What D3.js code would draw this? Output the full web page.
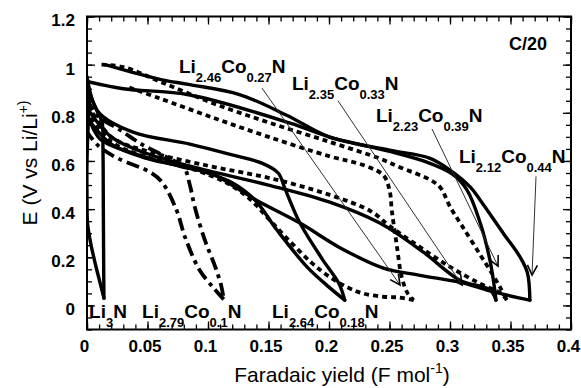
<!DOCTYPE html>
<html>
<head>
<meta charset="utf-8">
<script src="https://cdn.jsdelivr.net/npm/d3@7"></script>
<style>
  body { margin: 0; background: #fff; }
  svg { display: block; }
  text { font-family: "Liberation Sans", Arial, Helvetica, sans-serif; fill: #000; }
</style>
</head>
<body>
<svg id="chart" width="581" height="388"></svg>
<script>
// Galvanostatic cycles at C/20, E (V vs Li/Li+) against Faradaic yield (F/mol).
// Each composition: upper branch (yield rising) and lower branch (returning), [yield, E].

const li3nUpper = [[0,0.95],[0.004,0.86],[0.009,0.8],[0.0125,0.76],[0.0132,0.65],[0.0135,0.4],[0.0138,0.15],[0.014,0.03]];
const li3nLower = [[0.014,0.03],[0.011,0.09],[0.007,0.17],[0.003,0.26],[0.0005,0.34],[0,0.45],[0,0.6],[0.001,0.75],[0.002,0.88]];

const co010Upper = [[0,0.86],[0.008,0.79],[0.027,0.73],[0.045,0.67],[0.068,0.61],[0.08,0.575],[0.085,0.5],[0.089,0.41],[0.0975,0.27],[0.106,0.16],[0.111,0.08],[0.113,0.025]];
const co010Lower = [[0.113,0.025],[0.104,0.076],[0.093,0.147],[0.081,0.284],[0.074,0.396],[0.062,0.512],[0.052,0.554],[0.025,0.612],[0.01,0.66],[0,0.72]];

const co018Upper = [[0,0.92],[0.01,0.8],[0.038,0.72],[0.085,0.67],[0.12,0.625],[0.145,0.59],[0.158,0.55],[0.164,0.48],[0.176,0.342],[0.195,0.188],[0.208,0.093],[0.213,0.022]];
const co018Lower = [[0.213,0.022],[0.2,0.076],[0.182,0.159],[0.157,0.313],[0.139,0.437],[0.12,0.51],[0.09,0.565],[0.05,0.61],[0.02,0.67],[0,0.78]];

const co027Upper = [[0.035,0.905],[0.06,0.86],[0.104,0.78],[0.15,0.7],[0.2,0.62],[0.23,0.58],[0.245,0.54],[0.25,0.48],[0.252,0.39],[0.256,0.25],[0.26,0.12],[0.265,0.05],[0.27,0.022]];
const co027Lower = [[0.27,0.022],[0.258,0.033],[0.245,0.036],[0.228,0.05],[0.215,0.076],[0.2,0.12],[0.185,0.18],[0.165,0.28],[0.15,0.36],[0.135,0.44],[0.115,0.51],[0.085,0.57],[0.05,0.615],[0.02,0.68],[0,0.8]];

const co033Upper = [[0,0.93],[0.03,0.9],[0.085,0.874],[0.168,0.757],[0.2,0.7],[0.25,0.64],[0.278,0.6],[0.302,0.545],[0.314,0.48],[0.325,0.342],[0.333,0.188],[0.337,0.064],[0.338,0.022]];
const co033Lower = [[0.338,0.022],[0.333,0.064],[0.308,0.105],[0.278,0.221],[0.242,0.342],[0.2,0.43],[0.15,0.5],[0.1,0.56],[0.05,0.63],[0.02,0.7],[0,0.82]];

const co039Upper = [[0.012,1.0],[0.03,0.99],[0.063,0.924],[0.104,0.84],[0.15,0.76],[0.2,0.68],[0.242,0.61],[0.259,0.573],[0.283,0.523],[0.292,0.49],[0.3,0.41],[0.31,0.33],[0.325,0.21],[0.335,0.13],[0.342,0.07],[0.347,0.022]];
const co039Lower = [[0.347,0.022],[0.342,0.05],[0.325,0.09],[0.3,0.16],[0.27,0.26],[0.25,0.33],[0.235,0.39],[0.2,0.46],[0.15,0.53],[0.1,0.58],[0.05,0.64],[0.02,0.7],[0,0.84]];

const co044Upper = [[0.015,1.0],[0.04,0.965],[0.062,0.937],[0.085,0.917],[0.126,0.876],[0.165,0.79],[0.2,0.7],[0.25,0.645],[0.283,0.612],[0.3,0.562],[0.317,0.49],[0.325,0.437],[0.344,0.3],[0.358,0.2],[0.364,0.135],[0.366,0.022]];
const co044Lower = [[0.366,0.022],[0.336,0.056],[0.311,0.093],[0.275,0.125],[0.245,0.155],[0.209,0.24],[0.176,0.342],[0.14,0.437],[0.126,0.48],[0.102,0.55],[0.079,0.575],[0.04,0.63],[0.011,0.69],[0,0.8]];

// Axis ticks
const xTicks = [0, 0.05, 0.1, 0.15, 0.2, 0.25, 0.3, 0.35, 0.4];
const xTickLabels = ["0", "0.05", "0.1", "0.15", "0.2", "0.25", "0.3", "0.35", "0.4"];
const yTicks = [0, 0.2, 0.4, 0.6, 0.8, 1, 1.2];
const yTickLabels = ["0", "0.2", "0.4", "0.6", "0.8", "1", "1.2"];

// Composition labels: formula parts (alternating main / subscript) and anchor in data units
const compLabels = [
  { parts: ["Li", "2.46", "Co", "0.27", "N"], at: [0.0760, 0.965] },
  { parts: ["Li", "2.35", "Co", "0.33", "N"], at: [0.1694, 0.895] },
  { parts: ["Li", "2.23", "Co", "0.39", "N"], at: [0.2388, 0.762] },
  { parts: ["Li", "2.12", "Co", "0.44", "N"], at: [0.3074, 0.591] },
  { parts: ["Li", "3", "N"], at: [0.0017, -0.052] },
  { parts: ["Li", "2.79", "Co", "0.1", "N"], at: [0.0455, -0.052] },
  { parts: ["Li", "2.64", "Co", "0.18", "N"], at: [0.1529, -0.052] }
];
// Leader arrows from labels to their curves: [start, tip]
const leaders = [
  [[0.1446, 0.903], [0.2587, 0.085]],
  [[0.2074, 0.850], [0.3099, 0.085]],
  [[0.2851, 0.733], [0.3397, 0.163]],
  [[0.3711, 0.536], [0.3678, 0.126]]
];

const series = [
  { upper: li3nUpper,  lower: li3nLower,  style: "solid" },
  { upper: co010Upper, lower: co010Lower, style: "dashdot" },
  { upper: co018Upper, lower: co018Lower, style: "solid" },
  { upper: co027Upper, lower: co027Lower, style: "dash" },
  { upper: co033Upper, lower: co033Lower, style: "solid" },
  { upper: co039Upper, lower: co039Lower, style: "dash" },
  { upper: co044Upper, lower: co044Lower, style: "solid" }
];

const svg = d3.select("#chart");
const frame = { left: 87, right: 571, top: 16.5, bottom: 329.5 };
const x = d3.scaleLinear().domain([0, 0.4]).range([frame.left, frame.right]);
const y = d3.scaleLinear().domain([-0.1, 1.2]).range([frame.bottom, frame.top]);

const defs = svg.append("defs");
defs.append("clipPath").attr("id", "plotArea").append("rect")
  .attr("x", frame.left).attr("y", frame.top)
  .attr("width", frame.right - frame.left).attr("height", frame.bottom - frame.top);
defs.append("marker").attr("id", "barb")
  .attr("viewBox", "-12 -7 14 14").attr("refX", 0).attr("refY", 0)
  .attr("markerWidth", 14).attr("markerHeight", 14)
  .attr("markerUnits", "userSpaceOnUse").attr("orient", "auto")
  .append("path").attr("d", "M-10,-5L0,0L-10,5")
  .attr("fill", "none").attr("stroke", "#000").attr("stroke-width", 1.6);

// Ticks on all four sides, pointing inward
const minorX = d3.range(0, 0.4001, 0.01);
const minorY = d3.range(-0.1, 1.2001, 0.05);
const axes = svg.append("g").attr("class", "axes");
function tickRow(gen, transform, values, size) {
  axes.append("g").attr("transform", transform)
    .call(gen.tickValues(values).tickSizeInner(-size).tickSizeOuter(0).tickFormat(""))
    .call(g => g.select(".domain").remove())
    .call(g => g.selectAll(".tick line").attr("stroke", "#000").attr("stroke-width", 1.3));
}
tickRow(d3.axisBottom(x), `translate(0,${frame.bottom})`, minorX, 5);
tickRow(d3.axisTop(x), `translate(0,${frame.top})`, minorX, 5);
tickRow(d3.axisLeft(y), `translate(${frame.left},0)`, minorY, 5);
tickRow(d3.axisRight(y), `translate(${frame.right},0)`, minorY, 5);
tickRow(d3.axisBottom(x), `translate(0,${frame.bottom})`, xTicks, 8);
tickRow(d3.axisTop(x), `translate(0,${frame.top})`, xTicks, 8);
tickRow(d3.axisLeft(y), `translate(${frame.left},0)`, yTicks, 8);
tickRow(d3.axisRight(y), `translate(${frame.right},0)`, yTicks, 8);

// Tick labels
axes.append("g").attr("transform", `translate(0,${frame.bottom})`)
  .call(d3.axisBottom(x).tickValues(xTicks).tickSize(0).tickPadding(10)
    .tickFormat((d, i) => xTickLabels[i]))
  .call(g => g.select(".domain").remove())
  .call(g => g.selectAll("text").attr("font-size", 17).attr("font-weight", "bold")
    .attr("dx", -3)
    .attr("font-family", "Liberation Sans, Arial, sans-serif").attr("fill", "#000"));
axes.append("g").attr("transform", `translate(${frame.left},0)`)
  .call(d3.axisLeft(y).tickValues(yTicks).tickSize(0).tickPadding(12)
    .tickFormat((d, i) => yTickLabels[i]))
  .call(g => g.select(".domain").remove())
  .call(g => g.selectAll("text").attr("font-size", 17).attr("font-weight", "bold")
    .attr("dy", "0.55em")
    .attr("font-family", "Liberation Sans, Arial, sans-serif").attr("fill", "#000"));

// Curves
const line = d3.line().x(d => x(d[0])).y(d => y(d[1])).curve(d3.curveCatmullRom.alpha(0.5));
const dashes = { solid: null, dash: "5,4", dashdot: "13,5,4,5" };
const plot = svg.append("g").attr("clip-path", "url(#plotArea)");
series.forEach(s => {
  [s.upper, s.lower].forEach(branch => {
    plot.append("path").datum(branch)
      .attr("d", line)
      .attr("fill", "none")
      .attr("stroke", "#000")
      .attr("stroke-width", s.style === "solid" ? 3.4 : 3.8)
      .attr("stroke-linecap", s.style === "solid" ? "round" : "butt")
      .attr("stroke-linejoin", "round")
      .attr("stroke-dasharray", dashes[s.style]);
  });
});

// Leader arrows
svg.append("g").selectAll("line").data(leaders).join("line")
  .attr("x1", d => x(d[0][0])).attr("y1", d => y(d[0][1]))
  .attr("x2", d => x(d[1][0])).attr("y2", d => y(d[1][1]))
  .attr("stroke", "#333").attr("stroke-width", 1)
  .attr("marker-end", "url(#barb)");

// Frame
svg.append("rect")
  .attr("x", frame.left).attr("y", frame.top)
  .attr("width", frame.right - frame.left).attr("height", frame.bottom - frame.top)
  .attr("fill", "none").attr("stroke", "#000").attr("stroke-width", 2);

// Composition labels with subscripts
const labelG = svg.append("g");
compLabels.forEach(l => {
  const t = labelG.append("text")
    .attr("x", x(l.at[0])).attr("y", y(l.at[1]))
    .attr("font-weight", "bold").attr("font-size", 19);
  l.parts.forEach((p, i) => {
    const sub = i % 2 === 1;
    t.append("tspan")
      .attr("font-size", sub ? 13 : 19)
      .attr("dy", i === 0 ? 0 : (sub ? 9 : -9))
      .text(p);
  });
});

// Rate tag
svg.append("text")
  .attr("x", x(0.3802)).attr("y", y(1.061))
  .attr("text-anchor", "end").attr("font-weight", "bold").attr("font-size", 18)
  .text("C/20");

// Axis titles
const xt = svg.append("text")
  .attr("x", 342).attr("y", 382).attr("text-anchor", "middle").attr("font-size", 21);
xt.append("tspan").text("Faradaic yield (F mol");
xt.append("tspan").attr("font-size", 14).attr("dy", -9).text("-1");
xt.append("tspan").attr("dy", 9).text(")");

const yt = svg.append("text")
  .attr("transform", "translate(37,163) rotate(-90)")
  .attr("text-anchor", "middle").attr("font-size", 21);
yt.append("tspan").text("E (V vs Li/Li");
yt.append("tspan").attr("font-size", 14).attr("dy", -9).text("+)");
</script>
</body>
</html>
